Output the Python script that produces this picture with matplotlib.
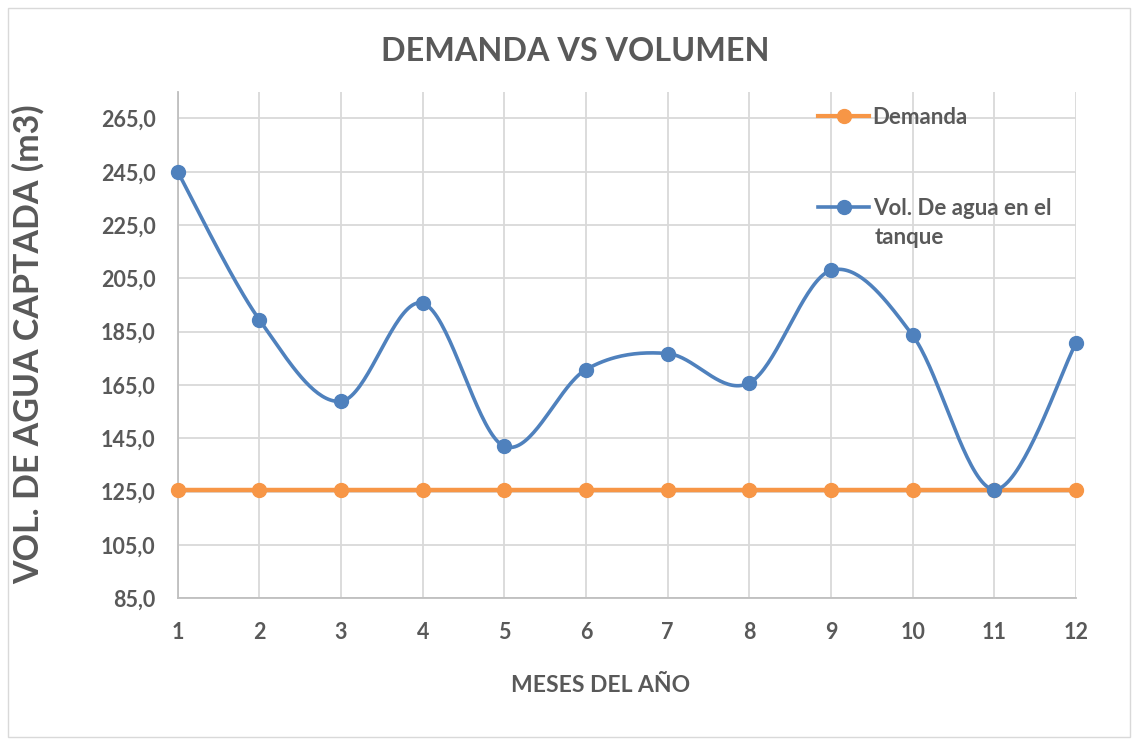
import numpy as np
import matplotlib
matplotlib.use("Agg")
import matplotlib.pyplot as plt
from matplotlib.patches import Rectangle
from matplotlib.lines import Line2D

months = [1, 2, 3, 4, 5, 6, 7, 8, 9, 10, 11, 12]
demanda = [125.8] * 12
volumen = [245.0, 189.5, 158.9, 195.7, 142.0, 170.8, 176.8, 165.8, 208.0, 183.6, 125.8, 180.7]
yticks = [85, 105, 125, 145, 165, 185, 205, 225, 245, 265]

GRAY = "#595959"
BLUE = "#4F81BD"
ORANGE = "#F79646"
FONT = "Lato"

plt.rcParams['font.family'] = [FONT, 'DejaVu Sans']


def smooth(x, y, n=40):
    # Excel-like smoothed line (Bezier with 1/6 control points)
    x = np.asarray(x, float)
    y = np.asarray(y, float)
    P = np.column_stack([x, y])
    out = []
    for i in range(len(P) - 1):
        p0 = P[i - 1] if i > 0 else P[i]
        p1 = P[i]
        p2 = P[i + 1]
        p3 = P[i + 2] if i + 2 < len(P) else P[i + 1]
        c1 = p1 + (p2 - p0) / 6.0
        c2 = p2 - (p3 - p1) / 6.0
        t = np.linspace(0, 1, n)[:, None]
        seg = ((1 - t) ** 3) * p1 + 3 * ((1 - t) ** 2) * t * c1 + 3 * (1 - t) * t ** 2 * c2 + t ** 3 * p2
        out.append(seg if i == 0 else seg[1:])
    s = np.vstack(out)
    return s[:, 0], s[:, 1]


fig = plt.figure(figsize=(11.33, 7.40), dpi=100)
ax = fig.add_axes([0.1568, 0.1915, 0.9497 - 0.1568, 0.876 - 0.1915])

ax.set_xlim(1, 12)
ax.set_ylim(85, 275)
ax.set_xticks(months)
ax.set_yticks(yticks)
ax.set_yticklabels([f"{v:.1f}".replace(".", ",") for v in yticks])
ax.grid(True, color="#d9d9d9", linewidth=1.3)
ax.set_axisbelow(True)
for s in ["top", "right"]:
    ax.spines[s].set_visible(False)
for s in ["left", "bottom"]:
    ax.spines[s].set_color("#bfbfbf")
    ax.spines[s].set_linewidth(1.3)
ax.tick_params(axis="both", length=0, labelsize=15.5, labelcolor=GRAY)
ax.tick_params(axis="y", pad=16)
ax.tick_params(axis="x", pad=17)
for lbl in ax.get_xticklabels() + ax.get_yticklabels():
    lbl.set_fontweight("bold")

ax.plot(months, demanda, color=ORANGE, linewidth=3.2, marker="o", markersize=10,
        label="Demanda", clip_on=False, zorder=3)
sx, sy = smooth(months, volumen)
ax.plot(sx, sy, color=BLUE, linewidth=2.6, clip_on=False, zorder=4)
ax.plot(months, volumen, color=BLUE, linestyle="none", marker="o", markersize=10,
        clip_on=False, zorder=5)

h1 = Line2D([], [], color=ORANGE, linewidth=3, marker="o", markersize=10)
h2 = Line2D([], [], color=BLUE, linewidth=2.6, marker="o", markersize=10)
lprop = {"family": FONT, "weight": "bold", "size": 16}
leg1 = ax.legend([h1], ["Demanda"], loc="center left", bbox_to_anchor=(0.713, 0.950),
                 frameon=False, handlelength=2.3, handletextpad=0.15,
                 borderpad=0, borderaxespad=0, prop=lprop)
for t in leg1.get_texts():
    t.set_color(GRAY)
ax.add_artist(leg1)
leg2 = ax.legend([h2], ["Vol. De agua en el"], loc="center left", bbox_to_anchor=(0.713, 0.769),
                 frameon=False, handlelength=2.3, handletextpad=0.15,
                 borderpad=0, borderaxespad=0, prop=lprop)
for t in leg2.get_texts():
    t.set_color(GRAY)
ax.text(0.776, 0.712, "tanque", transform=ax.transAxes, ha="left", va="center",
        fontsize=16, fontweight="bold", color=GRAY)

fig.text(0.508, 0.930, "DEMANDA VS VOLUMEN", ha="center", va="center",
         fontsize=23.3, fontweight="bold", color=GRAY)
fig.text(0.025, 0.535, "VOL. DE AGUA CAPTADA (m3)", ha="center", va="center",
         rotation=90, fontsize=24.5, fontweight="bold", color=GRAY)
fig.text(0.530, 0.074, "MESES DEL AÑO", ha="center", va="center",
         fontsize=16.5, fontweight="bold", color=GRAY)

fig.patches.append(Rectangle((0.007, 0.004), 0.99, 0.985, transform=fig.transFigure,
                             fill=False, edgecolor="#d9d9d9", linewidth=1))

fig.savefig("out.png", dpi=100)
